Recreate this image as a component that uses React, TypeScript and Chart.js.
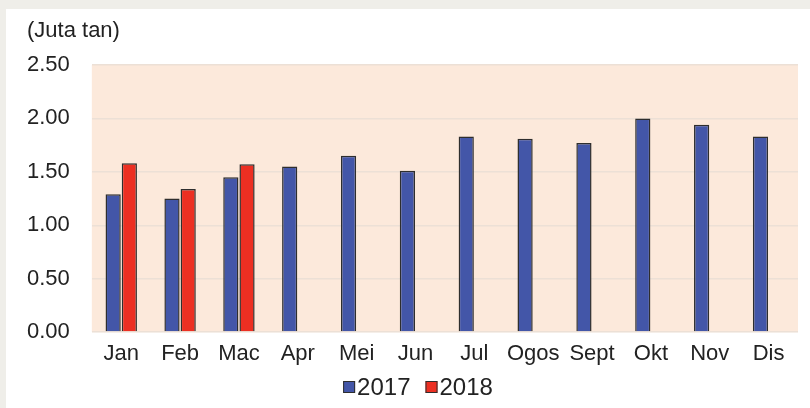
import React, { useEffect, useRef } from "react";
import { Chart, registerables } from "chart.js";

Chart.register(...registerables);

const months = ["Jan", "Feb", "Mac", "Apr", "Mei", "Jun", "Jul", "Ogos", "Sept", "Okt", "Nov", "Dis"];
const values2017 = [1.29, 1.25, 1.45, 1.55, 1.65, 1.51, 1.83, 1.81, 1.77, 2.0, 1.94, 1.83];
const values2018: (number | null)[] = [1.58, 1.34, 1.57, null, null, null, null, null, null, null, null, null];
const yTicks = [0, 0.5, 1, 1.5, 2, 2.5];
const unitLabel = "(Juta tan)";

const FONT = "'Liberation Sans', Arial, Helvetica, sans-serif";
const FS = 22;
const LEGEND_FS = 24;

const decor = {
  id: "decor",
  beforeDraw(chart: any) {
    const { ctx, chartArea } = chart;
    if (!chartArea) return;
    ctx.save();
    ctx.fillStyle = "#fce9db";
    ctx.fillRect(chartArea.left, chartArea.top, chartArea.right - chartArea.left, chartArea.bottom - chartArea.top);
    ctx.restore();
  },
  afterDraw(chart: any) {
    const { ctx } = chart;
    ctx.save();
    ctx.fillStyle = "#222";
    ctx.font = `${FS}px ${FONT}`;
    ctx.textAlign = "left";
    ctx.textBaseline = "middle";
    ctx.fillText(unitLabel, 21, 22);

    // legend
    ctx.font = `${LEGEND_FS}px ${FONT}`;
    const ds = chart.data.datasets;
    const box = 12;
    const gapText = 2;
    const gapItem = 15;
    const widths = ds.map((d: any) => ctx.measureText(d.label).width);
    let total = 0;
    widths.forEach((w: number, i: number) => {
      total += box + gapText + w + (i < widths.length - 1 ? gapItem : 0);
    });
    let x = 412 - total / 2;
    const cy = 378;
    ds.forEach((d: any, i: number) => {
      ctx.fillStyle = d.backgroundColor;
      ctx.fillRect(x, cy - box / 2, box, box);
      ctx.strokeStyle = "#2e2e2e";
      ctx.lineWidth = 1;
      ctx.strokeRect(x + 0.5, cy - box / 2 + 0.5, box - 1, box - 1);
      ctx.fillStyle = "#222";
      ctx.fillText(d.label, x + box + gapText, cy + 1);
      x += box + gapText + widths[i] + gapItem;
    });
    ctx.restore();
  },
};

export default function App() {
  const ref = useRef<HTMLCanvasElement | null>(null);
  useEffect(() => {
    if (!ref.current) return;
    const chart = new Chart(ref.current, {
      type: "bar",
      data: {
        labels: months,
        datasets: [
          {
            label: "2017",
            data: values2017,
            backgroundColor: "#4356a8",
            borderColor: "#2e2e2e",
            borderWidth: 1.5,
            categoryPercentage: 0.55,
            barPercentage: 0.94,
          },
          {
            label: "2018",
            data: values2018,
            backgroundColor: "#ec2f22",
            borderColor: "#2e2e2e",
            borderWidth: 1.5,
            categoryPercentage: 0.55,
            barPercentage: 0.94,
          },
        ],
      },
      options: {
        animation: false,
        responsive: false,
        maintainAspectRatio: false,
        layout: { padding: { left: -1, right: 12, top: 56, bottom: 39.5 } },
        plugins: {
          tooltip: { enabled: false },
          title: { display: false },
          legend: { display: false },
        },
        scales: {
          x: {
            grid: { display: false },
            border: { display: false },
            ticks: { color: "#222", font: { family: FONT, size: FS }, padding: 1 },
          },
          y: {
            min: 0,
            max: 2.5,
            afterBuildTicks: (scale: any) => {
              scale.ticks = yTicks.map((v) => ({ value: v }));
            },
            grid: { color: "#ece0d6", lineWidth: 1.5, drawTicks: false },
            border: { display: false },
            ticks: {
              color: "#222",
              font: { family: FONT, size: FS },
              padding: 22,
              callback: (v: any) => Number(v).toFixed(2),
            },
          },
        },
      },
      plugins: [decor],
    });
    return () => chart.destroy();
  }, []);

  return (
    <div style={{ position: "fixed", left: 0, top: 0, width: 810, height: 408, background: "#efeee9" }}>
      <div style={{ position: "absolute", left: 6, top: 9, width: 804, height: 399, background: "#ffffff" }}>
        <canvas ref={ref} width={804} height={399} style={{ display: "block", width: 804, height: 399 }} />
      </div>
    </div>
  );
}
